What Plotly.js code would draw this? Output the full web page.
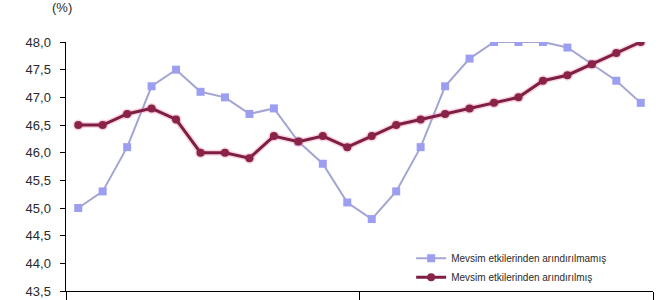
<!DOCTYPE html>
<html>
<head>
<meta charset="utf-8">
<script src="https://cdn.plot.ly/plotly-3.0.1.min.js"></script>
<style>
html,body{margin:0;padding:0;background:#fff;}
#chart{width:660px;height:300px;}
</style>
</head>
<body>
<div id="chart"></div>
<script>
// 24 monthly observations (two years)
const months = ["1","2","3","4","5","6","7","8","9","10","11","12",
                "13","14","15","16","17","18","19","20","21","22","23","24"];
const seriesNames = ["Mevsim etkilerinden arındırılmamış", "Mevsim etkilerinden arındırılmış"];
const notAdjusted = [45.0,45.3,46.1,47.2,47.5,47.1,47.0,46.7,46.8,46.2,45.8,45.1,
                     44.8,45.3,46.1,47.2,47.7,48.0,48.0,48.0,47.9,47.6,47.3,46.9];
const adjusted    = [46.5,46.5,46.7,46.8,46.6,46.0,46.0,45.9,46.3,46.2,46.3,46.1,
                     46.3,46.5,46.6,46.7,46.8,46.9,47.0,47.3,47.4,47.6,47.8,48.0];
const yTicks = [43.5,44.0,44.5,45.0,45.5,46.0,46.5,47.0,47.5,48.0];
const yUnit = "(%)";

const xIdx = months.map((m, i) => i + 1);
const yearBounds = [0.5, 12.5, 24.5];

const traces = [
  {
    x: xIdx, y: notAdjusted, name: seriesNames[0], type: "scatter", mode: "lines+markers",
    line: {color: "#A3A5D3", width: 2},
    marker: {symbol: "square", size: 8, color: "#9C9EF0"}
  },
  {
    x: xIdx, y: adjusted, name: "halo", type: "scatter", mode: "lines+markers",
    showlegend: false, hoverinfo: "skip",
    line: {color: "rgba(235,140,170,0.35)", width: 6},
    marker: {symbol: "circle", size: 11, color: "rgba(235,140,170,0.35)"}
  },
  {
    x: xIdx, y: adjusted, name: seriesNames[1], type: "scatter", mode: "lines+markers",
    line: {color: "#7E1E45", width: 3},
    marker: {symbol: "circle", size: 8, color: "#8A2348"}
  }
];

const layout = {
  width: 660, height: 300,
  margin: {l: 66, r: 7, t: 42, b: 9, pad: 0},
  paper_bgcolor: "#ffffff", plot_bgcolor: "#ffffff",
  separators: ", ",
  font: {family: "Liberation Sans, Arial, sans-serif", color: "#2a2a2a", size: 13},
  showlegend: true,
  legend: {
    x: 0.588, y: 0.19, xanchor: "left", yanchor: "top",
    bgcolor: "rgba(0,0,0,0)",
    font: {size: 10, color: "#2a2a2a", family: "Liberation Sans, Arial, sans-serif"},
    tracegroupgap: 0, itemwidth: 30
  },
  xaxis: {
    range: [0.5, 24.5], showgrid: false, zeroline: false,
    showline: true, linecolor: "#000000", linewidth: 1,
    tickmode: "array", tickvals: yearBounds, ticktext: ["", "", ""],
    ticks: "outside", ticklen: 12, tickcolor: "#000000", tickwidth: 1,
    fixedrange: true
  },
  yaxis: {
    range: [43.5, 48.0], showgrid: false, zeroline: false,
    showline: true, linecolor: "#000000", linewidth: 1.5,
    tickmode: "array", tickvals: yTicks, tickformat: ".1f",
    ticks: "outside", ticklen: 5, tickcolor: "#000000",
    ticklabelstandoff: 6,
    tickfont: {size: 13, color: "#2a2a2a"},
    fixedrange: true
  },
  annotations: [{
    text: yUnit, xref: "paper", yref: "paper", x: -0.007, y: 1.0, yshift: 35,
    xanchor: "center", yanchor: "middle", showarrow: false,
    font: {size: 13, color: "#2a2a2a"}
  }]
};

Plotly.newPlot("chart", traces, layout, {displayModeBar: false, staticPlot: true});
</script>
</body>
</html>
